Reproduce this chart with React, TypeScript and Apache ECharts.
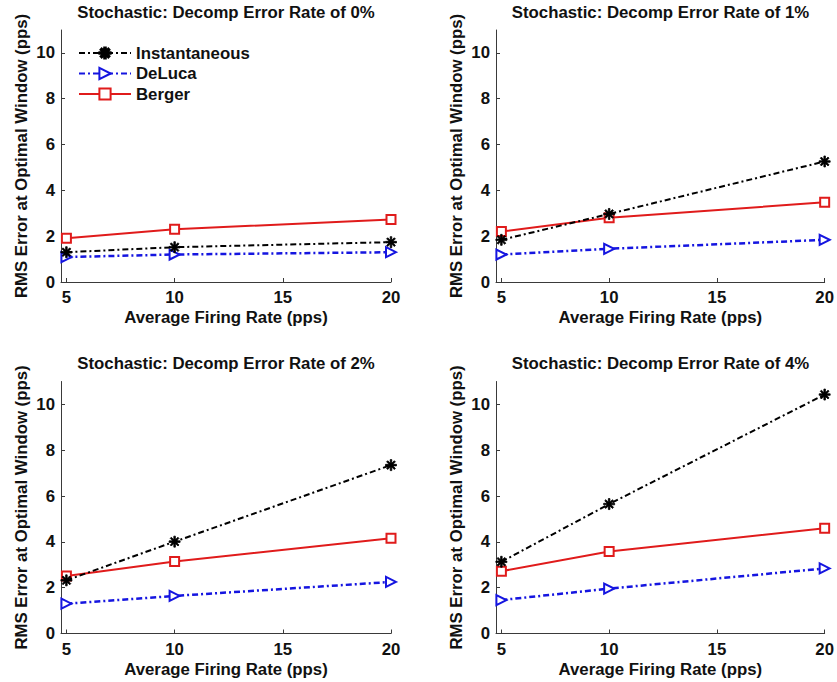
import React, { useEffect, useRef } from "react";
import * as echarts from "echarts";

// Average firing rates on the x axis (pps)
const firingRates = [5, 10, 20];
const xTicks = [5, 10, 15, 20];
const yTicks = [0, 2, 4, 6, 8, 10];

const panelTitles = [
  "Stochastic: Decomp Error Rate of 0%",
  "Stochastic: Decomp Error Rate of 1%",
  "Stochastic: Decomp Error Rate of 2%",
  "Stochastic: Decomp Error Rate of 4%",
];

// RMS error at optimal window (pps), one array per estimator and error rate
const instantaneous0 = [1.3, 1.52, 1.74];
const deluca0 = [1.09, 1.2, 1.3];
const berger0 = [1.91, 2.3, 2.73];

const instantaneous1 = [1.84, 2.97, 5.26];
const deluca1 = [1.2, 1.45, 1.84];
const berger1 = [2.2, 2.8, 3.48];

const instantaneous2 = [2.32, 4.01, 7.35];
const deluca2 = [1.3, 1.64, 2.25];
const berger2 = [2.51, 3.14, 4.16];

const instantaneous4 = [3.13, 5.65, 10.43];
const deluca4 = [1.46, 1.96, 2.84];
const berger4 = [2.72, 3.58, 4.59];

const panels = [
  [instantaneous0, deluca0, berger0],
  [instantaneous1, deluca1, berger1],
  [instantaneous2, deluca2, berger2],
  [instantaneous4, deluca4, berger4],
];

const seriesNames = ["Instantaneous", "DeLuca", "Berger"];

const FONT = "'Liberation Sans', Arial, sans-serif";
const FS = 16.8;

// eight-ray asterisk marker
const ASTERISK =
  "path://M-0.7,-5L0.7,-5L0.7,5L-0.7,5Z" +
  "M-5,-0.7L5,-0.7L5,0.7L-5,0.7Z" +
  "M-3.0,-4.0L4.0,3.0L3.0,4.0L-4.0,-3.0Z" +
  "M-4.0,3.0L3.0,-4.0L4.0,-3.0L-3.0,4.0Z";

const gridBoxes = [
  { left: 61, top: 30, width: 330, height: 252 },
  { left: 496, top: 30, width: 329, height: 252 },
  { left: 61, top: 381.5, width: 330, height: 252 },
  { left: 496, top: 381.5, width: 329, height: 252 },
];

export default function App() {
  const ref = useRef<HTMLDivElement>(null);

  useEffect(() => {
    if (!ref.current) return;
    const chart = echarts.init(ref.current, undefined, { renderer: "svg" });

    const axisColor = "#3a3a3a";
    const labelStyle = {
      color: "#111",
      fontFamily: FONT,
      fontWeight: "bold" as const,
      fontSize: FS,
    };

    const xAxis = gridBoxes.map((_, i) => ({
      type: "value" as const,
      gridIndex: i,
      min: 4.75,
      max: 20,
      name: "Average Firing Rate (pps)",
      nameLocation: "middle" as const,
      nameGap: 27,
      nameTextStyle: labelStyle,
      axisLine: { show: true, lineStyle: { color: axisColor, width: 1 } },
      axisTick: {
        show: true,
        inside: true,
        length: 4,
        customValues: xTicks,
        lineStyle: { color: axisColor },
      },
      axisLabel: { ...labelStyle, margin: 7, customValues: xTicks },
      splitLine: { show: false },
    }));

    const yAxis = gridBoxes.map((_, i) => ({
      type: "value" as const,
      gridIndex: i,
      min: 0,
      max: 11,
      name: "RMS Error at Optimal Window (pps)",
      nameLocation: "middle" as const,
      nameRotate: 90,
      nameGap: 31,
      nameTextStyle: labelStyle,
      axisLine: { show: true, lineStyle: { color: axisColor, width: 1 } },
      axisTick: {
        show: true,
        inside: true,
        length: 4,
        customValues: yTicks,
        lineStyle: { color: axisColor },
      },
      axisLabel: { ...labelStyle, margin: 6, customValues: yTicks },
      splitLine: { show: false },
    }));

    const styles = [
      {
        color: "#000000",
        symbol: ASTERISK,
        symbolSize: 11,
        symbolRotate: 0,
        lineType: [6, 3, 2, 3],
        width: 2,
      },
      {
        color: "#1515e0",
        symbol: "emptyTriangle",
        symbolSize: 10,
        symbolRotate: -90,
        lineType: [6, 3, 2, 3],
        width: 2.5,
      },
      {
        color: "#e01b1b",
        symbol: "emptyRect",
        symbolSize: 9,
        symbolRotate: 0,
        lineType: "solid",
        width: 2,
      },
    ];

    const series: any[] = [];
    panels.forEach((panel, p) => {
      panel.forEach((values, s) => {
        const st = styles[s];
        series.push({
          type: "line",
          name: seriesNames[s],
          xAxisIndex: p,
          yAxisIndex: p,
          data: firingRates.map((x, k) => [x, values[k]]),
          symbol: st.symbol,
          symbolSize: st.symbolSize,
          symbolRotate: st.symbolRotate,
          showAllSymbol: true,
          color: st.color,
          itemStyle: {
            color: st.color,
            borderColor: st.color,
            borderWidth: s === 0 ? 0.8 : 1.8,
          },
          lineStyle: { color: st.color, width: st.width, type: st.lineType },
          z: 2 + (s === 0 ? 1 : 0),
        });
      });
    });

    const titles = gridBoxes.map((g, i) => ({
      type: "text",
      x: g.left + g.width / 2,
      y: g.top - 18,
      style: {
        text: panelTitles[i],
        fill: "#111",
        font: `bold ${FS}px ${FONT}`,
        textAlign: "center",
        textVerticalAlign: "middle",
      },
    }));

    chart.setOption({
      animation: false,
      backgroundColor: "#ffffff",
      grid: gridBoxes.map((g) => ({ ...g, containLabel: false })),
      xAxis,
      yAxis,
      legend: {
        show: true,
        orient: "vertical",
        left: 73,
        top: 39.5,
        itemWidth: 52,
        itemHeight: 14,
        itemGap: 3.5,
        data: seriesNames,
        textStyle: { ...labelStyle, color: "#111" },
      },
      graphic: titles,
      series,
    });

    return () => chart.dispose();
  }, []);

  return (
    <div
      ref={ref}
      style={{ position: "fixed", left: 0, top: 0, width: 837, height: 682 }}
    />
  );
}
